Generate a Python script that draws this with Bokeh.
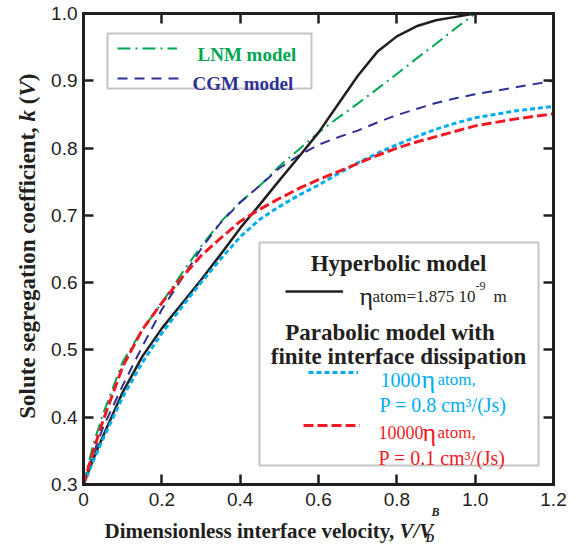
import math
from bokeh.plotting import figure
from bokeh.models import (LinearAxis, FixedTicker, Label, Legend, LegendItem,
                          BoxAnnotation, Range1d)
from bokeh.core.properties import value
from bokeh.embed import file_html
from bokeh.resources import INLINE

# ---------------- data ----------------
v_ratio = [0.0, 0.025, 0.05, 0.1, 0.15, 0.2, 0.25, 0.3, 0.35, 0.4, 0.45, 0.5,
           0.55, 0.6, 0.65, 0.7, 0.75, 0.8, 0.85, 0.9, 0.95, 1.0, 1.1, 1.2]

k_hyperbolic = [0.300, 0.338, 0.372, 0.437, 0.490, 0.532, 0.568, 0.604, 0.642,
                0.681, 0.716, 0.752, 0.787, 0.823, 0.865, 0.907, 0.943, 0.966,
                0.981, 0.990, 0.995, 1.000, 1.000, 1.000]
k_lnm = [0.300, 0.360, 0.405, 0.482, 0.530, 0.570, 0.613, 0.654, 0.690, 0.720,
         0.744, 0.773, 0.798, 0.823, 0.845, 0.866, 0.888, 0.910, 0.933, 0.955,
         0.978, 1.000, 1.000, 1.000]
k_cgm = [0.300, 0.345, 0.385, 0.447, 0.505, 0.560, 0.605, 0.650, 0.689, 0.719,
         0.744, 0.770, 0.789, 0.805, 0.816, 0.826, 0.838, 0.849, 0.858, 0.867,
         0.874, 0.880, 0.890, 0.900]
k_1000eta = [0.300, 0.335, 0.368, 0.430, 0.481, 0.525, 0.563, 0.600, 0.635,
             0.668, 0.694, 0.713, 0.730, 0.745, 0.762, 0.778, 0.792, 0.805,
             0.817, 0.828, 0.837, 0.845, 0.855, 0.862]
k_10000eta = [0.300, 0.350, 0.395, 0.475, 0.530, 0.570, 0.607, 0.640, 0.666,
              0.691, 0.709, 0.725, 0.740, 0.753, 0.765, 0.777, 0.789, 0.800,
              0.809, 0.817, 0.825, 0.833, 0.843, 0.851]

x_min, x_max = 0.0, 1.2
y_min, y_max = 0.3, 1.0
x_ticks = [0.0, 0.2, 0.4, 0.6, 0.8, 1.0, 1.2]
x_tick_labels = ["0", "0.2", "0.4", "0.6", "0.8", "1.0", "1.2"]
y_ticks = [0.3, 0.4, 0.5, 0.6, 0.7, 0.8, 0.9, 1.0]
y_tick_labels = ["0.3", "0.4", "0.5", "0.6", "0.7", "0.8", "0.9", "1.0"]

# ---------------- styling / layout ----------------
INK = "#231f20"
GREEN = "#00a651"
NAVY = "#2e3192"
CYAN = "#00aeef"
RED = "#ed1c24"
SERIF = "Liberation Serif"
SANS = "Liberation Sans"

W, H = 580, 545          # canvas (Bokeh's page template has no body margin)
OFF = 0
# page-pixel box that the data area [x_min,x_max] x [y_min,y_max] occupies
BOX_L, BOX_R, BOX_T, BOX_B = 83, 553, 13, 484

# The frame spans the whole canvas; ranges are widened so the data area sits
# in the box above, and the four axes are drawn at the data-area edges.
kx = (BOX_R - BOX_L) / (x_max - x_min)
ky = (BOX_B - BOX_T) / (y_max - y_min)
xr = Range1d(x_min - (BOX_L - OFF) / kx, x_min - (BOX_L - OFF) / kx + W / kx)
yr = Range1d(y_max + (BOX_T - OFF) / ky - H / ky, y_max + (BOX_T - OFF) / ky)

p = figure(width=W, height=H, x_range=xr, y_range=yr,
           output_backend="svg", toolbar_location=None, min_border=0,
           x_axis_location=None, y_axis_location=None)
p.xgrid.visible = False
p.ygrid.visible = False
p.outline_line_color = None
p.background_fill_color = "white"
p.border_fill_color = "white"


def make_axis(ticks, labels, show, loc, bounds):
    ax = LinearAxis(ticker=FixedTicker(ticks=ticks), fixed_location=loc,
                    bounds=bounds)
    ax.axis_line_width = 3
    ax.axis_line_color = INK
    ax.axis_line_cap = "square"
    ax.major_tick_in = 10
    ax.major_tick_out = 0
    ax.major_tick_line_width = 2.5
    ax.major_tick_line_color = INK
    ax.minor_tick_line_color = None
    if show:
        ax.major_label_overrides = dict(zip(ticks, labels))
        ax.major_label_text_font = SANS
        ax.major_label_text_font_size = "19px"
        ax.major_label_text_color = INK
    else:
        ax.major_label_text_color = None
        ax.major_label_text_font_size = "1px"
        ax.major_label_standoff = 0
    return ax


ax_b = make_axis(x_ticks, x_tick_labels, True, y_min, (x_min, x_max))
ax_b.major_label_standoff = 8
ax_l = make_axis(y_ticks, y_tick_labels, True, x_min, (y_min, y_max))
ax_l.major_label_standoff = 6
p.add_layout(ax_b, "below")
p.add_layout(ax_l, "left")
p.add_layout(make_axis(x_ticks, x_tick_labels, False, y_max, (x_min, x_max)), "above")
p.add_layout(make_axis(y_ticks, y_tick_labels, False, x_max, (y_min, y_max)), "right")

# ---------------- curves ----------------
r_lnm = p.line(v_ratio, k_lnm, line_color=GREEN, line_width=2, line_dash="13 5 2 5")
r_cgm = p.line(v_ratio, k_cgm, line_color=NAVY, line_width=2, line_dash="10 7")
r_hyp = p.line(v_ratio, k_hyperbolic, line_color=INK, line_width=2.5)
r_1000 = p.line(v_ratio, k_1000eta, line_color=CYAN, line_width=3, line_dash="5 3")
r_10000 = p.line(v_ratio, k_10000eta, line_color=RED, line_width=3, line_dash="10 4")


# ---------------- helpers (page pixel -> frame screen units) ----------------
def sx(page_x):
    return page_x - OFF


def sy(page_y):
    return OFF + H - page_y


def txt(text, px, py, size, color=INK, style="bold", font=SERIF,
        align="left", baseline="alphabetic", angle=0.0):
    p.add_layout(Label(x=sx(px), y=sy(py), x_units="screen", y_units="screen",
                       text=text, text_font=font, text_font_size=f"{size}px",
                       text_font_style=style, text_color=color,
                       text_align=align, text_baseline=baseline, angle=angle))


def sample(renderer, left_px, center_py, width):
    lg = Legend(items=[LegendItem(label=value(""), renderers=[renderer])],
                location=(sx(left_px), sy(center_py + 10)),
                glyph_width=width, glyph_height=20, label_height=20,
                label_standoff=0, padding=0, spacing=0, margin=0,
                border_line_color=None, background_fill_color=None,
                label_text_font_size="1px")
    p.add_layout(lg)


def box(l, r, t, b):
    p.add_layout(BoxAnnotation(left=sx(l), right=sx(r), top=sy(t), bottom=sy(b),
                               left_units="screen", right_units="screen",
                               top_units="screen", bottom_units="screen",
                               fill_color=None, fill_alpha=0,
                               line_color="#3a3a3a", line_width=2))


# ---------------- axis titles ----------------
txt("Dimensionless interface velocity,", 104, 530, 21)
txt("V/V", 399, 530, 21, style="bold italic")
txt("B", 431, 511, 12, style="bold italic")
txt("D", 425, 537, 12, style="bold italic")

A = math.pi / 2
YT = 27
txt("Solute segregation coefficient,", YT, 126.7, 23, align="right",
    baseline="middle", angle=A)
txt("k", YT, 109.4, 23, style="bold italic", align="right", baseline="middle", angle=A)
txt("(", YT, 96.0, 23, align="right", baseline="middle", angle=A)
txt("V", YT, 80.7, 23, style="bold italic", align="right", baseline="middle", angle=A)
txt(")", YT, 73.0, 23, align="right", baseline="middle", angle=A)

# ---------------- legend 1 ----------------
box(107, 311, 33, 88)
sample(r_lnm, 117, 48, 60)
sample(r_cgm, 117, 77.7, 63)
txt("LNM model", 197, 53.5, 19, color=GREEN)
txt("CGM model", 192, 83.3, 19, color=NAVY)

# ---------------- legend 2 ----------------
box(259, 538, 242, 465)
txt("Hyperbolic model", 398, 263.3, 23, align="center")
sample(r_hyp, 285, 290.7, 58)
txt("\u03b7", 359, 296, 26, style="normal")
txt("atom=1.875 10", 372, 296, 17, style="normal")
txt("-9", 475, 285, 12, style="normal")
txt("m", 493, 296, 17, style="normal")
txt("Parabolic model with", 389.5, 331.7, 23, align="center")
txt("finite interface dissipation", 398, 355.7, 23, align="center")

sample(r_1000, 308, 372, 50)
txt("1000", 380, 379, 20, color=CYAN, style="normal")
txt("\u03b7", 421, 379, 26, color=CYAN, style="normal")
txt("atom,", 437, 379, 17, color=CYAN, style="normal")
txt("P = 0.8 cm\u00b3/(Js)", 379, 404, 20, color=CYAN, style="normal")

sample(r_10000, 303, 425, 57)
txt("10000", 378, 432, 18, color=RED, style="normal")
txt("\u03b7", 422, 432, 26, color=RED, style="normal")
txt("atom,", 437, 432, 17, color=RED, style="normal")
txt("P = 0.1 cm\u00b3/(Js)", 378, 457, 20, color=RED, style="normal")

open("out.html", "w").write(file_html(p, INLINE))
